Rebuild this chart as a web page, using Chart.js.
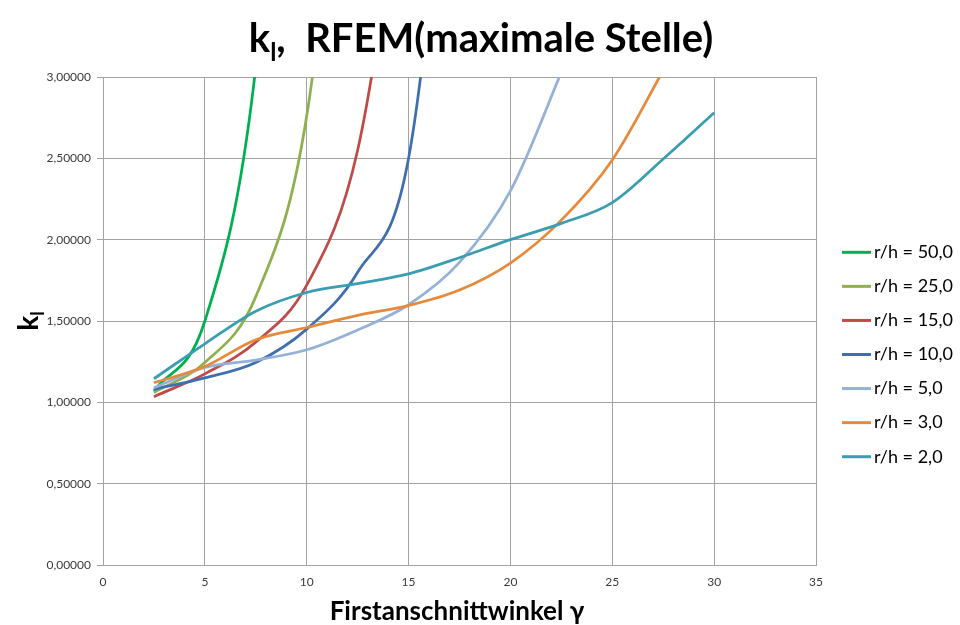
<!DOCTYPE html>
<html>
<head>
<meta charset="utf-8">
<script src="https://cdn.jsdelivr.net/npm/chart.js@4.4.1/dist/chart.umd.min.js"></script>
<style>
  html, body { margin: 0; padding: 0; background: #fff; }
  #chart-kl { display: block; }
</style>
</head>
<body>
<canvas id="chart-kl" width="960" height="625"></canvas>
<script>
// Firstanschnittwinkel (x) and k_l values per r/h
// (last value of the steep series lies above 3,0 and is clipped)
const angles = [2.5, 5, 7.5, 10, 12.5, 15, 17.5, 20, 22.5, 25, 27.5, 30]
const rh50 = [1.07, 1.50, 3.06, 7.0]
const rh25 = [1.06, 1.245, 1.65, 2.76, 5.6]
const rh15 = [1.035, 1.175, 1.37, 1.72, 2.55, 4.5]
const rh10 = [1.08, 1.15, 1.245, 1.45, 1.80, 2.50, 5.2]
const rh5 = [1.09, 1.215, 1.26, 1.323, 1.445, 1.60, 1.86, 2.30, 3.03, 3.8]
const rh3 = [1.12, 1.22, 1.385, 1.46, 1.535, 1.595, 1.69, 1.856, 2.12, 2.49, 3.04, 3.6]
const rh2 = [1.145, 1.36, 1.56, 1.675, 1.73, 1.79, 1.889, 2.0, 2.10, 2.228, 2.496, 2.78]
const series_labels = ['r/h = 50,0', 'r/h = 25,0', 'r/h = 15,0', 'r/h = 10,0', 'r/h = 5,0', 'r/h = 3,0', 'r/h = 2,0']
const x_ticks = [0, 5, 10, 15, 20, 25, 30, 35]
const y_ticks = [0, 0.5, 1, 1.5, 2, 2.5, 3]

const title_text = ['k', 'l', ',  RFEM(maximale Stelle)']
const x_title = 'Firstanschnittwinkel \u03b3'
const y_title = ['k', 'l']

const colors = ['#00b050', '#8fb04f', '#be4b48', '#3f6fae', '#94b1d8', '#e6893a', '#3a9db1']
const all_values = [rh50, rh25, rh15, rh10, rh5, rh3, rh2]

function to_points(values){
  return values.map((v, i) => ({x: angles[i], y: v}))
}

const grid_color = '#a3a3a3'
const tick_color = '#3a3a3a'
const FONT = 'Lato, "Open Sans", sans-serif'

// draws "k" + subscript "l" + rest, centred on cx
function draw_sub(ctx, parts, cx, cy, size, sub_size, sub_drop){
  const fonts = parts.map((p, i) => `bold ${i === 1 ? sub_size : size}px ${FONT}`)
  let total = 0
  parts.forEach((p, i) => { ctx.font = fonts[i]; total += ctx.measureText(p).width })
  let x = cx - total / 2
  ctx.textAlign = 'left'
  ctx.textBaseline = 'alphabetic'
  parts.forEach((p, i) => {
    ctx.font = fonts[i]
    ctx.fillText(p, x, i === 1 ? cy + sub_drop : cy)
    x += ctx.measureText(p).width
  })
}

const texts_plugin = {
  id: 'texts',
  afterDraw(chart){
    const ctx = chart.ctx
    const area = chart.chartArea
    ctx.save()
    ctx.fillStyle = '#000'
    // chart title
    draw_sub(ctx, title_text, 481, 52, 40, 25, 9)
    // x axis title
    ctx.font = `bold 26px ${FONT}`
    ctx.textAlign = 'center'
    ctx.textBaseline = 'alphabetic'
    ctx.fillText(x_title, 457, 620)
    // y axis title (rotated)
    ctx.save()
    ctx.translate(38, (area.top + area.bottom) / 2)
    ctx.rotate(-Math.PI / 2)
    draw_sub(ctx, y_title, 0, 0, 28, 18, 6)
    ctx.restore()
    // legend
    chart.data.datasets.forEach((ds, i) => {
      const y = 252.3 + i * 34.07
      ctx.strokeStyle = ds.borderColor
      ctx.lineWidth = 3
      ctx.beginPath()
      ctx.moveTo(842, y)
      ctx.lineTo(871, y)
      ctx.stroke()
      ctx.fillStyle = '#000'
      ctx.font = `18px ${FONT}`
      ctx.textAlign = 'left'
      ctx.textBaseline = 'middle'
      ctx.fillText(ds.label, 874, y)
    })
    ctx.restore()
  }
}

const canvas = document.getElementById('chart-kl')

let chart = new Chart(canvas, {
  type: 'line',
  data: {
    datasets: all_values.map((values, i) => ({
      label: series_labels[i],
      data: to_points(values),
      borderColor: colors[i],
      backgroundColor: colors[i],
      borderWidth: 2.75,
      pointRadius: 0,
      cubicInterpolationMode: 'monotone',
      clip: 0,
      order: all_values.length - 1 - i,
    }))
  },
  options: {
    responsive: false,
    animation: false,
    devicePixelRatio: 1,
    layout: {
      padding: {top: 77, right: 144, bottom: 0, left: 0}
    },
    elements: {
      line: {capBezierPoints: false}
    },
    plugins: {
      legend: {display: false},
      title: {display: false},
      tooltip: {enabled: false},
    },
    scales: {
      x: {
        type: 'linear',
        min: 0,
        max: 35,
        afterBuildTicks: axis => { axis.ticks = x_ticks.map(v => ({value: v})) },
        afterFit: axis => { axis.height = 60 },
        grid: {color: grid_color, drawTicks: false},
        border: {color: grid_color},
        ticks: {
          color: tick_color,
          padding: 10,
          font: {family: FONT, size: 12},
          callback: v => String(v),
        },
      },
      y: {
        type: 'linear',
        min: 0,
        max: 3,
        afterBuildTicks: axis => { axis.ticks = y_ticks.map(v => ({value: v})) },
        afterFit: axis => { axis.width = 103 },
        grid: {color: grid_color, tickLength: 6},
        border: {color: grid_color},
        ticks: {
          color: tick_color,
          padding: 6,
          font: {family: FONT, size: 12},
          callback: v => v.toFixed(5).replace('.', ','),
        },
      }
    }
  },
  plugins: [texts_plugin]
})
</script>
</body>
</html>
